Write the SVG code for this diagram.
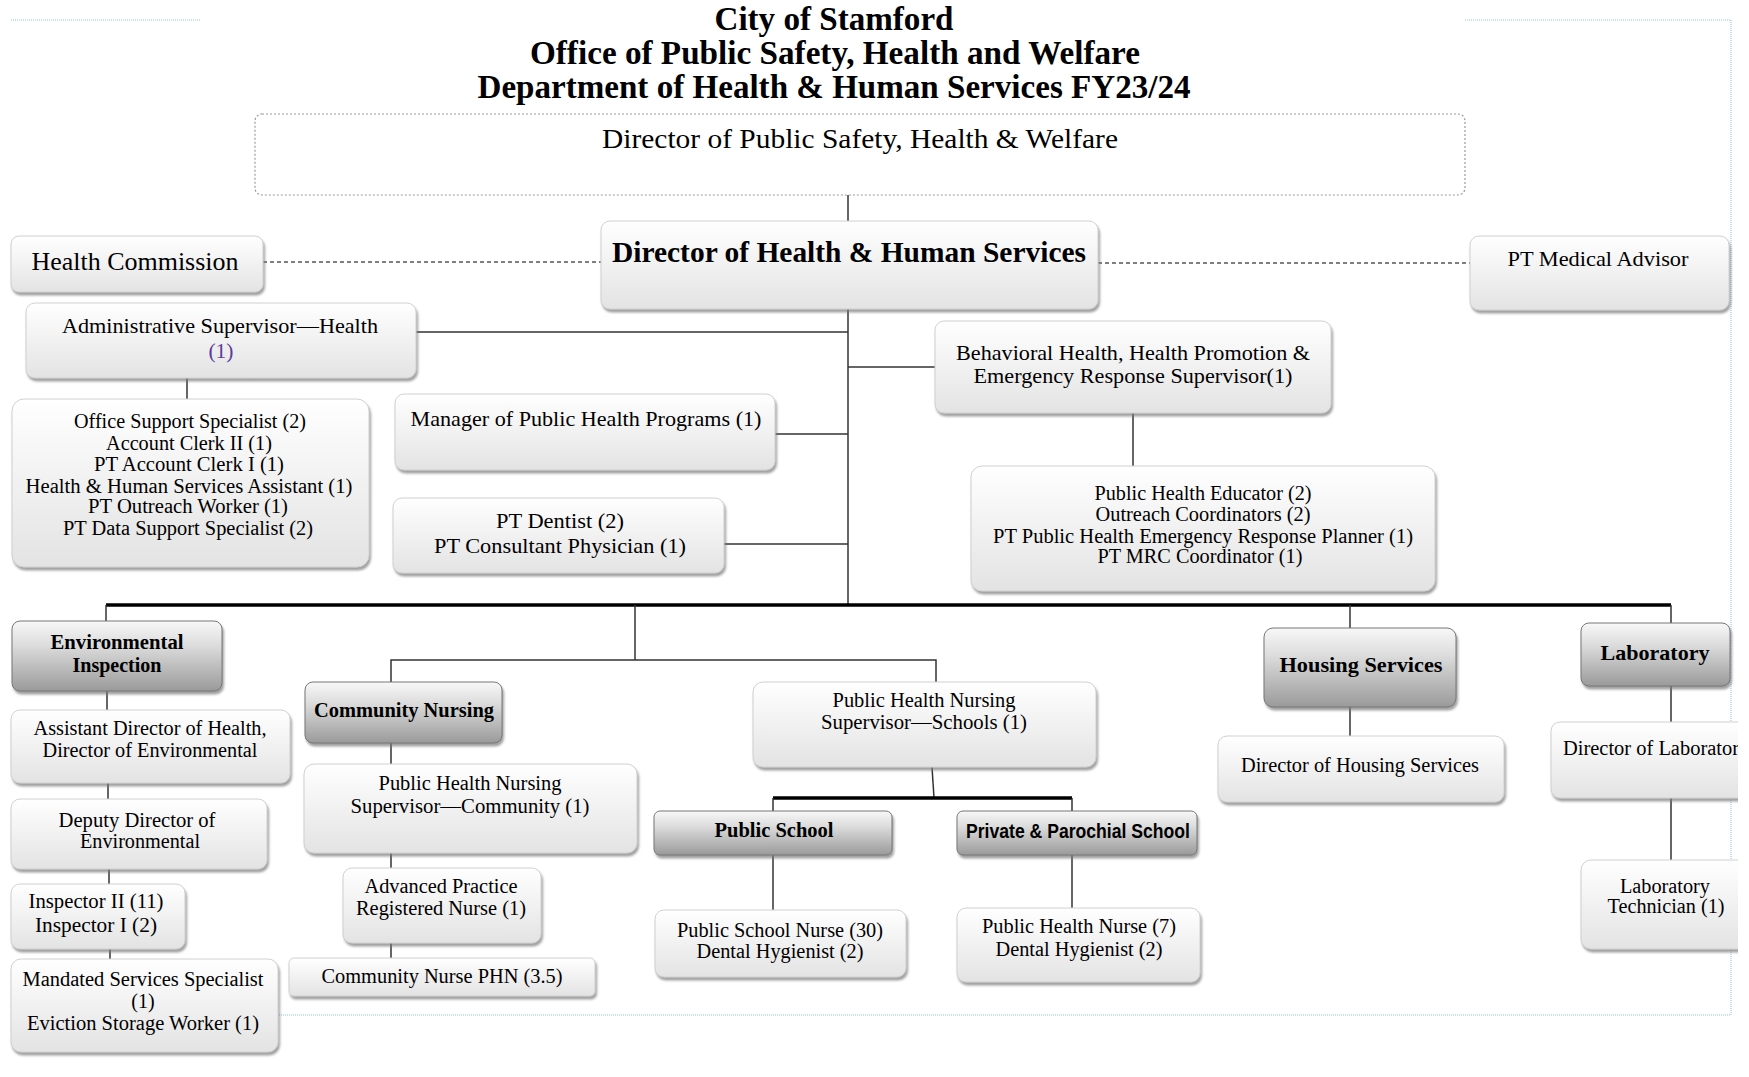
<svg xmlns="http://www.w3.org/2000/svg" width="1749" height="1077" viewBox="0 0 1749 1077">
<style>
svg{font-size:20px}
.box{fill:url(#gL);stroke:#d0d0d0;stroke-width:1;filter:url(#sh)}
.dbox{fill:url(#gD);stroke:#777;stroke-width:1;filter:url(#sh)}
.t{font-family:"Liberation Serif","Times New Roman",serif;fill:#000;text-anchor:middle}
.b{font-weight:bold}
.ln{stroke:#333;stroke-width:1.5;fill:none}
.thick{stroke:#000;stroke-width:3.5;fill:none}
.dash{stroke:#555;stroke-width:1.5;stroke-dasharray:4 3;fill:none}
.blue{stroke:#8fbcef;stroke-width:1;stroke-dasharray:1 1;fill:none}
</style>
<defs>
<linearGradient id="gL" x1="0" y1="0" x2="0" y2="1"><stop offset="0" stop-color="#ffffff"/><stop offset="1" stop-color="#e3e3e3"/></linearGradient>
<linearGradient id="gD" x1="0" y1="0" x2="0" y2="1"><stop offset="0" stop-color="#f8f8f8"/><stop offset="0.35" stop-color="#dcdcdc"/><stop offset="1" stop-color="#9a9a9a"/></linearGradient>
<filter id="sh" x="-5%" y="-10%" width="115%" height="135%"><feDropShadow dx="1.5" dy="3" stdDeviation="1.2" flood-color="#7a7a7a" flood-opacity="0.7"/></filter>
<clipPath id="clipR"><rect x="0" y="0" width="1738" height="1077"/></clipPath>
</defs>
<rect width="1749" height="1077" fill="#fff"/>

<g id="frame">
<line class="blue" x1="11" y1="20" x2="200" y2="20"/>
<line class="blue" x1="1465" y1="20" x2="1731" y2="20"/>
<line class="blue" x1="1731" y1="20" x2="1731" y2="1015"/>
<line class="blue" x1="277" y1="1015" x2="1731" y2="1015"/>
</g>

<g id="title">
<text class="t b" x="834" y="30" font-size="33" textLength="239" lengthAdjust="spacingAndGlyphs">City of Stamford</text>
<text class="t b" x="835" y="64" font-size="33" textLength="610" lengthAdjust="spacingAndGlyphs">Office of Public Safety, Health and Welfare</text>
<text class="t b" x="834" y="98" font-size="33" textLength="713" lengthAdjust="spacingAndGlyphs">Department of Health &amp; Human Services FY23/24</text>
</g>

<g id="connectors">
<line class="ln" x1="848" y1="195" x2="848" y2="221"/>
<line class="ln" x1="848" y1="309" x2="848" y2="605"/>
<line class="dash" x1="263" y1="262" x2="601" y2="262"/>
<line class="dash" x1="1098" y1="263" x2="1470" y2="263"/>
<line class="ln" x1="416" y1="332" x2="848" y2="332" stroke="#000" stroke-width="2"/>
<line class="ln" x1="187" y1="378" x2="187" y2="399"/>
<line class="ln" x1="775" y1="434" x2="848" y2="434"/>
<line class="ln" x1="724" y1="544" x2="848" y2="544"/>
<line class="ln" x1="848" y1="367" x2="935" y2="367"/>
<line class="ln" x1="1133" y1="413" x2="1133" y2="466"/>
<line class="thick" x1="106" y1="605" x2="1671" y2="605"/>
<line class="ln" x1="106" y1="605" x2="106" y2="621"/>
<line class="ln" x1="1671" y1="605" x2="1671" y2="623"/>
<line class="ln" x1="1350" y1="605" x2="1350" y2="628"/>
<line class="ln" x1="1350" y1="707" x2="1350" y2="736"/>
<line class="ln" x1="1671" y1="686" x2="1671" y2="722"/>
<line class="ln" x1="1671" y1="798" x2="1671" y2="860"/>
<line class="ln" x1="107" y1="691" x2="107" y2="710"/>
<line class="ln" x1="108" y1="783" x2="108" y2="799"/>
<line class="ln" x1="109" y1="869" x2="109" y2="884"/>
<line class="ln" x1="110" y1="949" x2="110" y2="959"/>
<line class="ln" x1="635" y1="605" x2="635" y2="660"/>
<polyline class="ln" points="391,682 391,660 936,660 936,682"/>
<line class="ln" x1="391" y1="743" x2="391" y2="764"/>
<line class="ln" x1="391" y1="853" x2="391" y2="868"/>
<line class="ln" x1="391" y1="943" x2="391" y2="958"/>
<line class="ln" x1="932" y1="767" x2="934" y2="798"/>
<line class="thick" x1="773" y1="798" x2="1072" y2="798"/>
<line class="ln" x1="773" y1="798" x2="773" y2="811"/>
<line class="ln" x1="1072" y1="798" x2="1072" y2="811"/>
<line class="ln" x1="773" y1="855" x2="773" y2="910"/>
<line class="ln" x1="1072" y1="855" x2="1072" y2="908"/>
</g>

<g id="n-public-safety">
<rect x="255" y="114" width="1210" height="81" rx="7" fill="#fff" stroke="#9a9a9a" stroke-width="1.2" stroke-dasharray="2 2"/>
<text class="t" x="860" y="148" font-size="28" textLength="516" lengthAdjust="spacingAndGlyphs">Director of Public Safety, Health &amp; Welfare</text>
</g>

<g id="n-director-hhs">
<rect class="box" x="601" y="221" width="497" height="88" rx="9"/>
<text class="t b" x="849" y="262" font-size="29" textLength="474" lengthAdjust="spacingAndGlyphs">Director of Health &amp; Human Services</text>
</g>

<g id="n-health-commission">
<rect class="box" x="11" y="236" width="252" height="56" rx="8"/>
<text class="t" x="135" y="270" font-size="26" textLength="207" lengthAdjust="spacingAndGlyphs">Health Commission</text>
</g>

<g id="n-medical-advisor">
<rect class="box" x="1470" y="236" width="259" height="74" rx="9"/>
<text class="t" x="1598" y="266" font-size="22" textLength="181" lengthAdjust="spacingAndGlyphs">PT Medical Advisor</text>
</g>

<g id="n-admin-supervisor">
<rect class="box" x="26" y="303" width="390" height="75" rx="9"/>
<text class="t" x="220" y="333" font-size="21.5" textLength="316" lengthAdjust="spacingAndGlyphs">Administrative Supervisor—Health</text>
<text class="t" x="221" y="358" font-size="21.5" style="fill:#5b3a9e">(1)</text>
</g>

<g id="n-office-support">
<rect class="box" x="12" y="399" width="357" height="168" rx="12"/>
<text class="t" x="190" y="428" textLength="232" lengthAdjust="spacingAndGlyphs">Office Support Specialist (2)</text>
<text class="t" x="189" y="450" textLength="166" lengthAdjust="spacingAndGlyphs">Account Clerk II (1)</text>
<text class="t" x="189" y="471" textLength="190" lengthAdjust="spacingAndGlyphs">PT Account Clerk I (1)</text>
<text class="t" x="189" y="493" textLength="327" lengthAdjust="spacingAndGlyphs">Health &amp; Human Services  Assistant (1)</text>
<text class="t" x="188" y="513" textLength="200" lengthAdjust="spacingAndGlyphs">PT Outreach Worker (1)</text>
<text class="t" x="188" y="535" textLength="250" lengthAdjust="spacingAndGlyphs">PT Data Support Specialist (2)</text>
</g>

<g id="n-manager-programs">
<rect class="box" x="395" y="394" width="380" height="76" rx="9"/>
<text class="t" x="586" y="426" font-size="22" textLength="351" lengthAdjust="spacingAndGlyphs">Manager of Public Health Programs (1)</text>
</g>

<g id="n-dentist">
<rect class="box" x="393" y="498" width="331" height="75" rx="9"/>
<text class="t" x="560" y="528" font-size="22" textLength="128" lengthAdjust="spacingAndGlyphs">PT Dentist (2)</text>
<text class="t" x="560" y="553" font-size="22" textLength="252" lengthAdjust="spacingAndGlyphs">PT Consultant Physician (1)</text>
</g>

<g id="n-behavioral">
<rect class="box" x="935" y="321" width="396" height="92" rx="9"/>
<text class="t" x="1133" y="360" font-size="22" textLength="354" lengthAdjust="spacingAndGlyphs">Behavioral Health, Health Promotion &amp;</text>
<text class="t" x="1133" y="383" font-size="22" textLength="319" lengthAdjust="spacingAndGlyphs">Emergency Response Supervisor(1)</text>
</g>

<g id="n-health-educator">
<rect class="box" x="971" y="466" width="464" height="125" rx="11"/>
<text class="t" x="1203" y="500" textLength="217" lengthAdjust="spacingAndGlyphs">Public Health Educator (2)</text>
<text class="t" x="1203" y="521" textLength="215" lengthAdjust="spacingAndGlyphs">Outreach Coordinators (2)</text>
<text class="t" x="1203" y="543" textLength="420" lengthAdjust="spacingAndGlyphs">PT Public Health Emergency Response  Planner (1)</text>
<text class="t" x="1200" y="563" textLength="205" lengthAdjust="spacingAndGlyphs">PT MRC Coordinator (1)</text>
</g>

<g id="n-env-inspection">
<rect class="dbox" x="12" y="621" width="210" height="70" rx="8"/>
<text class="t b" x="117" y="649" font-size="20.5" textLength="133" lengthAdjust="spacingAndGlyphs">Environmental</text>
<text class="t b" x="117" y="672" font-size="20.5" textLength="89" lengthAdjust="spacingAndGlyphs">Inspection</text>
</g>

<g id="n-asst-director">
<rect class="box" x="11" y="710" width="279" height="73" rx="9"/>
<text class="t" x="150" y="735" textLength="233" lengthAdjust="spacingAndGlyphs">Assistant Director of Health,</text>
<text class="t" x="150" y="757" textLength="215" lengthAdjust="spacingAndGlyphs">Director of Environmental</text>
</g>

<g id="n-deputy-director">
<rect class="box" x="11" y="799" width="256" height="70" rx="9"/>
<text class="t" x="137" y="827" textLength="157" lengthAdjust="spacingAndGlyphs">Deputy Director of</text>
<text class="t" x="140" y="848" textLength="120" lengthAdjust="spacingAndGlyphs">Environmental</text>
</g>

<g id="n-inspectors">
<rect class="box" x="11" y="884" width="174" height="65" rx="9"/>
<text class="t" x="96" y="908" textLength="135" lengthAdjust="spacingAndGlyphs">Inspector II (11)</text>
<text class="t" x="96" y="932" textLength="122" lengthAdjust="spacingAndGlyphs">Inspector I  (2)</text>
</g>

<g id="n-mandated">
<rect class="box" x="11" y="959" width="267" height="93" rx="10"/>
<text class="t" x="143" y="986" textLength="241" lengthAdjust="spacingAndGlyphs">Mandated Services Specialist</text>
<text class="t" x="143" y="1008">(1)</text>
<text class="t" x="143" y="1030" textLength="232" lengthAdjust="spacingAndGlyphs">Eviction Storage Worker (1)</text>
</g>

<g id="n-community-nursing">
<rect class="dbox" x="305" y="682" width="197" height="61" rx="8"/>
<text class="t b" x="404" y="717" font-size="20.5" textLength="180" lengthAdjust="spacingAndGlyphs">Community Nursing</text>
</g>

<g id="n-phn-community">
<rect class="box" x="304" y="764" width="333" height="89" rx="10"/>
<text class="t" x="470" y="790" textLength="183" lengthAdjust="spacingAndGlyphs">Public Health Nursing</text>
<text class="t" x="470" y="813" textLength="239" lengthAdjust="spacingAndGlyphs">Supervisor—Community  (1)</text>
</g>

<g id="n-advanced-practice">
<rect class="box" x="343" y="868" width="198" height="75" rx="9"/>
<text class="t" x="441" y="893" textLength="153" lengthAdjust="spacingAndGlyphs">Advanced Practice</text>
<text class="t" x="441" y="915" textLength="170" lengthAdjust="spacingAndGlyphs">Registered Nurse (1)</text>
</g>

<g id="n-community-nurse">
<rect class="box" x="289" y="958" width="306" height="38" rx="5"/>
<text class="t" x="442" y="983" textLength="241" lengthAdjust="spacingAndGlyphs">Community Nurse PHN (3.5)</text>
</g>

<g id="n-phn-schools">
<rect class="box" x="753" y="682" width="343" height="85" rx="10"/>
<text class="t" x="924" y="707" textLength="183" lengthAdjust="spacingAndGlyphs">Public Health Nursing</text>
<text class="t" x="924" y="729" textLength="206" lengthAdjust="spacingAndGlyphs">Supervisor—Schools  (1)</text>
</g>

<g id="n-public-school">
<rect class="dbox" x="654" y="811" width="238" height="44" rx="6"/>
<text class="t b" x="774" y="837" font-size="20.5" textLength="119" lengthAdjust="spacingAndGlyphs">Public School</text>
</g>

<g id="n-private-school">
<rect class="dbox" x="957" y="811" width="240" height="44" rx="6"/>
<text class="t b" x="1078" y="838" font-size="20" style="font-family:'Liberation Sans',Arial,sans-serif" textLength="224" lengthAdjust="spacingAndGlyphs">Private &amp; Parochial School</text>
</g>

<g id="n-public-school-nurse">
<rect class="box" x="655" y="910" width="251" height="67" rx="9"/>
<text class="t" x="780" y="937" textLength="206" lengthAdjust="spacingAndGlyphs">Public School Nurse (30)</text>
<text class="t" x="780" y="958" textLength="167" lengthAdjust="spacingAndGlyphs">Dental Hygienist (2)</text>
</g>

<g id="n-public-health-nurse">
<rect class="box" x="957" y="908" width="243" height="74" rx="9"/>
<text class="t" x="1079" y="933" textLength="194" lengthAdjust="spacingAndGlyphs">Public Health Nurse (7)</text>
<text class="t" x="1079" y="956" textLength="167" lengthAdjust="spacingAndGlyphs">Dental Hygienist (2)</text>
</g>

<g id="n-housing">
<rect class="dbox" x="1264" y="628" width="192" height="79" rx="9"/>
<text class="t b" x="1361" y="672" font-size="22" textLength="163" lengthAdjust="spacingAndGlyphs">Housing Services</text>
</g>

<g id="n-director-housing">
<rect class="box" x="1218" y="736" width="286" height="66" rx="9"/>
<text class="t" x="1360" y="772" font-size="20.5" textLength="238" lengthAdjust="spacingAndGlyphs">Director of Housing Services</text>
</g>

<g id="n-laboratory">
<rect class="dbox" x="1581" y="623" width="149" height="63" rx="8"/>
<text class="t b" x="1655" y="660" font-size="22" textLength="109" lengthAdjust="spacingAndGlyphs">Laboratory</text>
</g>

<g id="n-director-lab" clip-path="url(#clipR)">
<rect class="box" x="1551" y="722" width="210" height="76" rx="9"/>
<text class="t" x="1563" y="755" font-size="20.5" style="text-anchor:start" textLength="176" lengthAdjust="spacingAndGlyphs">Director of Laborator</text>
</g>

<g id="n-lab-tech" clip-path="url(#clipR)">
<rect class="box" x="1581" y="860" width="180" height="89" rx="10"/>
<text class="t" x="1665" y="893" textLength="90" lengthAdjust="spacingAndGlyphs">Laboratory</text>
<text class="t" x="1666" y="913" textLength="117" lengthAdjust="spacingAndGlyphs">Technician (1)</text>
</g>
</svg>
